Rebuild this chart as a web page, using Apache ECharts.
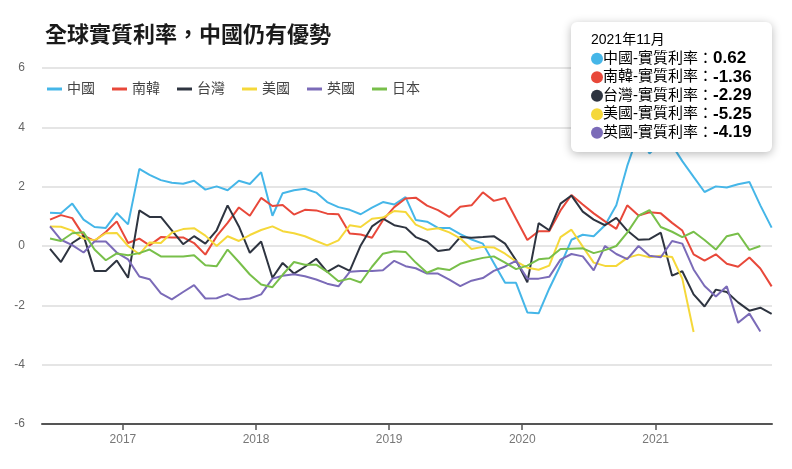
<!DOCTYPE html>
<html>
<head>
<meta charset="utf-8">
<script src="https://cdn.jsdelivr.net/npm/echarts@6/dist/echarts.min.js"></script>
<style>
html,body{margin:0;padding:0;background:#fff;}
#main{width:792px;height:469px;}
</style>
</head>
<body>
<div id="main"></div>
<script>
var months = ['2016-06','2016-07','2016-08','2016-09','2016-10','2016-11','2016-12',
'2017-01','2017-02','2017-03','2017-04','2017-05','2017-06','2017-07','2017-08','2017-09','2017-10','2017-11','2017-12',
'2018-01','2018-02','2018-03','2018-04','2018-05','2018-06','2018-07','2018-08','2018-09','2018-10','2018-11','2018-12',
'2019-01','2019-02','2019-03','2019-04','2019-05','2019-06','2019-07','2019-08','2019-09','2019-10','2019-11','2019-12',
'2020-01','2020-02','2020-03','2020-04','2020-05','2020-06','2020-07','2020-08','2020-09','2020-10','2020-11','2020-12',
'2021-01','2021-02','2021-03','2021-04','2021-05','2021-06','2021-07','2021-08','2021-09','2021-10','2021-11'];

var seriesNames = ['中國','南韓','台灣','美國','英國','日本'];
var seriesColors = ['#45b6e8','#e8483a','#2e3440','#f5d83a','#7b6bb8','#78bf4a'];

var china = [1.12,1.10,1.43,0.89,0.64,0.61,1.11,0.73,2.60,2.40,
2.22,2.13,2.10,2.20,1.90,2.01,1.88,2.20,2.09,2.49,
1.02,1.78,1.88,1.93,1.80,1.48,1.31,1.22,1.07,1.29,
1.48,1.40,1.65,0.88,0.82,0.61,0.61,0.40,0.22,0.08,
-0.57,-1.24,-1.24,-2.24,-2.27,-1.44,-0.65,0.21,0.38,0.33,
0.70,1.37,2.70,3.80,3.12,3.50,3.40,2.86,2.33,1.82,
2.01,1.97,2.08,2.16,1.37,0.62];
var korea = [0.89,1.04,0.94,0.35,0.17,0.47,0.83,0.10,0.25,0.02,
0.30,0.29,0.29,0.10,-0.29,0.33,0.78,1.30,1.02,1.62,
1.35,1.38,1.06,1.22,1.20,1.09,1.07,0.42,0.39,0.28,
0.87,1.31,1.60,1.63,1.36,1.21,0.98,1.32,1.37,1.81,
1.52,1.62,0.92,0.20,0.50,0.50,1.20,1.72,1.40,1.10,
0.83,0.58,1.37,1.03,1.14,1.10,0.78,0.52,-0.28,-0.49,
-0.28,-0.60,-0.70,-0.39,-0.76,-1.36];
var taiwan = [-0.10,-0.54,0.10,0.35,-0.84,-0.84,-0.49,-1.07,1.20,0.98,
0.98,0.53,0.06,0.33,0.08,0.53,1.37,0.66,-0.23,0.15,
-1.07,-0.57,-0.93,-0.70,-0.43,-0.87,-0.65,-0.84,0.02,0.66,
0.92,0.70,0.62,0.30,0.15,-0.17,-0.12,0.30,0.28,0.30,
0.33,0.08,-0.48,-1.22,0.77,0.53,1.43,1.70,1.16,0.89,
0.70,0.95,0.52,0.21,0.23,0.45,-1.00,-0.85,-1.63,-2.04,
-1.47,-1.55,-1.90,-2.18,-2.08,-2.29];
var usa = [0.66,0.65,0.52,0.25,0.19,0.43,0.44,0.00,-0.28,0.12,
0.10,0.45,0.57,0.60,0.35,0.00,0.33,0.17,0.37,0.54,
0.66,0.50,0.43,0.33,0.17,0.02,0.19,0.70,0.64,0.92,
0.96,1.18,1.15,0.72,0.55,0.60,0.46,0.26,-0.10,-0.03,
-0.05,-0.26,-0.52,-0.73,-0.80,-0.66,0.30,0.55,-0.02,-0.56,
-0.67,-0.67,-0.40,-0.29,-0.38,-0.33,-0.37,-1.10,-2.90,null,
null,null,null,null,null,null];
var uk = [0.66,0.21,0.03,-0.22,0.15,0.15,-0.22,-0.45,-1.03,-1.12,
-1.60,-1.80,-1.55,-1.32,-1.77,-1.76,-1.62,-1.80,-1.77,-1.63,
-1.10,-1.00,-0.95,-1.02,-1.13,-1.27,-1.36,-0.87,-0.84,-0.84,
-0.82,-0.50,-0.68,-0.75,-0.93,-0.93,-1.13,-1.35,-1.17,-1.08,
-0.84,-0.69,-0.50,-1.10,-1.10,-1.04,-0.46,-0.27,-0.35,-0.82,
0.00,-0.27,-0.44,0.00,-0.33,-0.38,0.17,0.08,-0.79,-1.35,
-1.70,-1.36,-2.59,-2.28,-2.88,null];
var japan = [0.25,0.17,0.43,0.46,-0.12,-0.48,-0.25,-0.31,-0.24,-0.12,
-0.35,-0.35,-0.35,-0.31,-0.65,-0.68,-0.12,-0.54,-0.96,-1.30,
-1.39,-0.97,-0.54,-0.63,-0.63,-0.87,-1.19,-1.10,-1.23,-0.70,
-0.26,-0.18,-0.20,-0.56,-0.90,-0.75,-0.81,-0.60,-0.49,-0.40,
-0.35,-0.56,-0.78,-0.66,-0.45,-0.41,-0.10,-0.09,-0.08,-0.24,
-0.14,0.00,0.45,1.02,1.21,0.64,0.48,0.30,0.48,0.20,
-0.12,0.33,0.42,-0.13,0.00,null];

var yTicks = [-6,-4,-2,0,2,4,6];
var tipTitle = '2021年11月';
var tipNames = ['中國','南韓','台灣','美國','英國'];
var tipValues = ['0.62','-1.36','-2.29','-5.25','-4.19'];

var allSeries = [china, korea, taiwan, usa, uk, japan];
var FONT = '"Liberation Sans", "Noto Sans CJK TC", sans-serif';

function toPairs(arr){
  var out = [];
  for (var i = 0; i < arr.length; i++) {
    if (arr[i] !== null) out.push([months[i] + '-15', arr[i]]);
  }
  return out;
}

var series = seriesNames.map(function(n, i){
  return {
    name: n, type: 'line', data: toPairs(allSeries[i]),
    showSymbol: false, symbol: 'none',
    lineStyle: {width: 2, color: seriesColors[i]},
    itemStyle: {color: seriesColors[i]},
    emphasis: {disabled: true},
    animation: false
  };
});

var rich = {
  t: {fontSize: 14, color: '#222', lineHeight: 18.5, fontFamily: FONT},
  n: {fontSize: 15, color: '#222', lineHeight: 18.5, fontFamily: FONT},
  v: {fontSize: 17, color: '#111', fontWeight: 'bold', lineHeight: 18.5, fontFamily: FONT}
};
var lines = ['{t|' + tipTitle + '}'];
tipNames.forEach(function(n, i){
  var c = seriesColors[seriesNames.indexOf(n)];
  rich['c' + i] = {width: 12, height: 12, borderRadius: 6, backgroundColor: c, lineHeight: 18.5};
  lines.push('{c' + i + '|}{n|' + n + '-實質利率：}{v|' + tipValues[i] + '}');
});

var chart = echarts.init(document.getElementById('main'), null, {renderer: 'canvas'});
chart.setOption({
  animation: false,
  backgroundColor: '#fff',
  textStyle: {fontFamily: FONT},
  title: {
    text: '全球實質利率，中國仍有優勢',
    left: 40, top: 18,
    textStyle: {fontSize: 22, fontWeight: 'bold', color: '#1a1a1a', fontFamily: '"Noto Sans CJK TC", sans-serif'}
  },
  legend: {
    data: seriesNames,
    left: 42, top: 77,
    icon: 'rect', itemWidth: 15, itemHeight: 3, itemGap: 17,
    textStyle: {fontSize: 14, color: '#444', fontFamily: FONT}
  },
  grid: {left: 42, right: 20, top: 68, bottom: 45, containLabel: false},
  xAxis: {
    type: 'time',
    min: '2016-05-24', max: '2021-11-16',
    minInterval: 365 * 24 * 3600 * 1000,
    axisLine: {onZero: false, lineStyle: {color: '#555', width: 2}},
    axisTick: {show: true, length: 6, lineStyle: {color: '#555', width: 1.5}},
    axisLabel: {formatter: '{yyyy}', color: '#777', fontSize: 12, margin: 10, fontFamily: FONT},
    splitLine: {show: false}
  },
  yAxis: {
    type: 'value', min: yTicks[0], max: yTicks[yTicks.length - 1], interval: 2,
    axisLine: {show: false}, axisTick: {show: false},
    axisLabel: {color: '#666', fontSize: 12, margin: 17, fontFamily: FONT},
    splitLine: {lineStyle: {color: '#dddddd', width: 1.5}}
  },
  tooltip: {show: false},
  series: series,
  graphic: [{
    type: 'group', left: 571, top: 22, z: 100, zlevel: 1,
    children: [
      {type: 'rect', z: 100, zlevel: 1, shape: {x: 0, y: 0, width: 201, height: 130, r: 6},
       style: {fill: '#ffffff', shadowBlur: 10, shadowColor: 'rgba(0,0,0,0.28)', shadowOffsetY: 2}},
      {type: 'text', z: 101, zlevel: 1, x: 20, y: 9,
       style: {text: lines.join('\n'), rich: rich, fontFamily: FONT}}
    ]
  }]
});
</script>
</body>
</html>
